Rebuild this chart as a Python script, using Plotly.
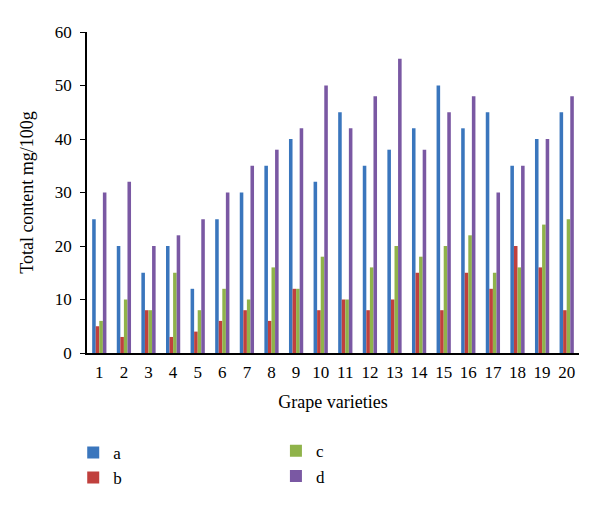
import plotly.graph_objects as go

categories = [str(i) for i in range(1, 21)]
a_vals = [25, 20, 15, 20, 12, 25, 30, 35, 40, 32, 45, 35, 38, 42, 50, 42, 45, 35, 40, 45]
b_vals = [5, 3, 8, 3, 4, 6, 8, 6, 12, 8, 10, 8, 10, 15, 8, 15, 12, 20, 16, 8]
c_vals = [6, 10, 8, 15, 8, 12, 10, 16, 12, 18, 10, 16, 20, 18, 20, 22, 15, 16, 24, 25]
d_vals = [30, 32, 20, 22, 25, 30, 35, 38, 42, 50, 42, 48, 55, 38, 45, 48, 30, 35, 40, 48]
series_names = ["a", "b", "c", "d"]
colors = ["#3a76bd", "#c0403d", "#8fb34a", "#7a58a3"]
y_ticks = [0, 10, 20, 30, 40, 50, 60]

font_family = "Liberation Serif"

fig = go.Figure()
for name, vals, col, leg in zip(series_names, [a_vals, b_vals, c_vals, d_vals], colors,
                                ["legend", "legend", "legend2", "legend2"]):
    fig.add_trace(go.Bar(
        x=categories, y=vals, name=name,
        marker=dict(color=col, line=dict(color=col, width=0)),
        legend=leg,
    ))

fig.update_layout(
    width=600, height=508,
    barmode="group",
    bargap=0.42,
    bargroupgap=0.0,
    plot_bgcolor="white",
    paper_bgcolor="white",
    margin=dict(l=87, r=21, t=32, b=155),
    font=dict(family=font_family, size=17, color="black"),
    xaxis=dict(
        type="category", automargin=False,
        showline=True, linecolor="black", linewidth=2,
        ticks="", showgrid=False,
        tickfont=dict(size=17), ticklabelstandoff=3,
        title=dict(text="Grape varieties", font=dict(size=18), standoff=14),
    ),
    yaxis=dict(
        range=[0, 60], tickvals=y_ticks, automargin=False,
        showline=True, linecolor="black", linewidth=1.5,
        ticks="outside", ticklen=5, tickcolor="black",
        showgrid=False, zeroline=False,
        tickfont=dict(size=17), ticklabelstandoff=5,
        title=dict(text="Total content mg/100g", font=dict(size=18), standoff=17),
    ),
    legend=dict(
        x=-0.028, y=-0.255, xanchor="left", yanchor="top",
        orientation="v", font=dict(size=17), tracegroupgap=0,
        itemwidth=30,
    ),
    legend2=dict(
        x=0.384, y=-0.25, xanchor="left", yanchor="top",
        orientation="v", font=dict(size=17), tracegroupgap=0,
        itemwidth=30,
    ),
)

fig.write_html("out.html", config={"displayModeBar": False},
               post_script="document.body.style.margin='0px';")
